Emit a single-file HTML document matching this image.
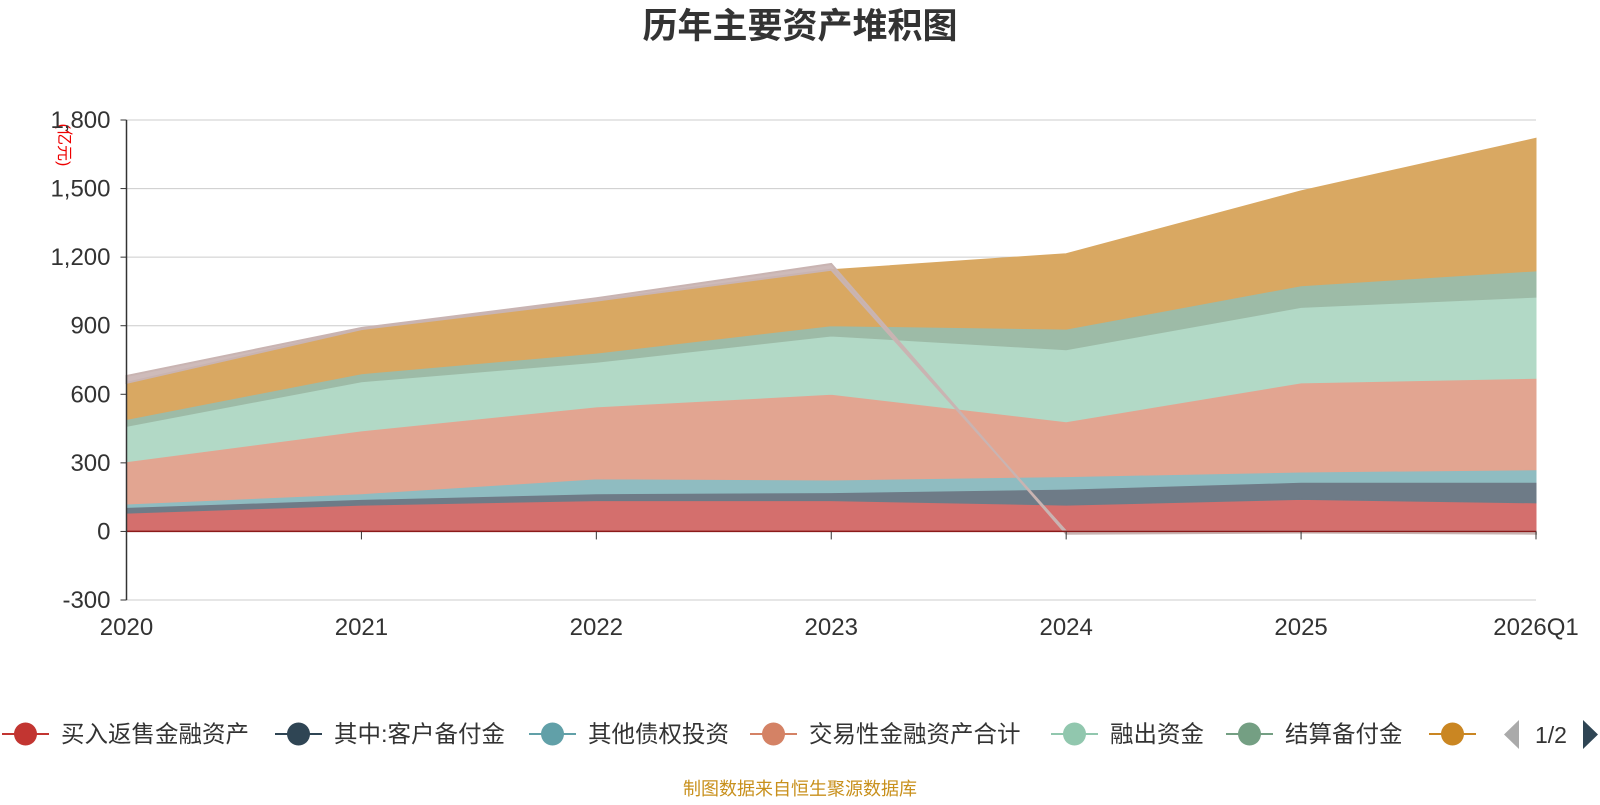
<!DOCTYPE html>
<html><head><meta charset="utf-8"><style>
body{margin:0;background:#fff;width:1600px;height:800px;overflow:hidden;font-family:"Liberation Sans","Noto Sans CJK SC",sans-serif}
</style></head><body>
<svg id="c" width="1600" height="800" xmlns="http://www.w3.org/2000/svg">
<text x="800" y="38" text-anchor="middle" font-size="35" font-weight="bold" fill="#333" font-family="Liberation Sans, Noto Sans CJK SC, sans-serif">历年主要资产堆积图</text>
<text transform="translate(59,145) rotate(90)" text-anchor="middle" font-size="16" fill="#e00" font-family="Liberation Sans, Noto Sans CJK SC, sans-serif">(亿元)</text>
<g id="grid"></g><g id="areas"></g><g id="axes"></g><g id="legend"></g>
<text x="800" y="795" text-anchor="middle" font-size="18" fill="#c8901c" font-family="Liberation Sans, Noto Sans CJK SC, sans-serif">制图数据来自恒生聚源数据库</text>
</svg>
<script>
const categories=["2020","2021","2022","2023","2024","2025","2026Q1"];
const yTicks=[-300,0,300,600,900,1200,1500,1800];
const seriesNames=["买入返售金融资产","其中:客户备付金","其他债权投资","交易性金融资产合计","融出资金","结算备付金",""];
const s1=[80,115,135,135,115,140,125];
const s2=[25,25,30,35,70,75,90];
const s3=[15,25,65,55,55,45,55];
const s4=[185,275,315,375,240,390,400];
const s5=[155,215,195,255,315,330,355];
const s6=[30,35,40,45,90,95,115];
const s7=[160,195,230,245,330,415,580];
const s8=[30,5,10,25,-10,-5,-10];
const series=[s1,s2,s3,s4,s5,s6,s7];
const fills=["#d46f6d","#6e7b87","#8fbcc1","#e2a591","#b2d9c6","#9dbba7","#d9a862"];
const legendColors=["#c23531","#2f4554","#61a0a8","#d48265","#91c7ae","#749f83","#ca8622"];
const NS="http://www.w3.org/2000/svg";
const x0=126.5,x1=1536,yTop=120,yBot=600,vMin=-300,vMax=1800;
const X=i=>x0+(x1-x0)*i/(categories.length-1);
const Y=v=>yBot-(v-vMin)/(vMax-vMin)*(yBot-yTop);
function mk(tag,attrs,parent){const e=document.createElementNS(NS,tag);for(const k in attrs)e.setAttribute(k,attrs[k]);parent.appendChild(e);return e;}
const grid=document.getElementById('grid'),areas=document.getElementById('areas'),axes=document.getElementById('axes'),legend=document.getElementById('legend');
yTicks.forEach(v=>{
 const l=mk('line',{x1:x0,x2:x1,y1:Y(v),y2:Y(v),stroke:'#ccc','stroke-width':1},grid);
 
 
 const t=mk('text',{x:x0-16,y:Y(v)+8,'text-anchor':'end','font-size':24,fill:'#333'},axes);
 t.textContent=v.toLocaleString('en-US');
 
 
 mk('line',{x1:x0-6,x2:x0,y1:Y(v),y2:Y(v),stroke:'#333'},axes);
});
let base=categories.map(()=>0);
series.forEach((s,k)=>{
 const top=base.map((b,i)=>b+s[i]);
 let pts=top.map((v,i)=>X(i)+','+Y(v));
 let bp=base.map((v,i)=>X(i)+','+Y(v)).reverse();
 const p=mk('polygon',{points:pts.concat(bp).join(' '),fill:fills[k],stroke:fills[k],'stroke-width':1},areas);
 
 
 base=top;
});
const lastTop=base.slice();
const top8=s8.map((v,i)=>v>=0?lastTop[i]+v:v);
const base8=s8.map((v,i)=>v>=0?lastTop[i]:0);
const p8=mk('polygon',{points:top8.map((v,i)=>X(i)+','+Y(v)).concat(base8.map((v,i)=>X(i)+','+Y(v)).reverse()).join(' '),fill:'#c9b4b2',stroke:'#c9b4b2','stroke-width':2,'fill-opacity':0.9},areas);


mk('line',{x1:x0,x2:x1,y1:Y(0),y2:Y(0),stroke:'#8b1a1a','stroke-width':1.5},axes);
mk('line',{x1:x0,x2:x0,y1:yTop,y2:yBot,stroke:'#333','stroke-width':1.5},axes);
categories.forEach((c,i)=>{
 mk('line',{x1:X(i),x2:X(i),y1:Y(0),y2:Y(0)+8,stroke:'#333'},axes);
 const t=mk('text',{x:X(i),y:635,'text-anchor':'middle','font-size':24,fill:'#333'},axes);
 t.textContent=c;
 
 
});
const lx=[2,275,529,750,1051,1226,1429];
seriesNames.forEach((n,k)=>{
 const g=mk('g',{},legend);
 
 
 mk('line',{x1:lx[k],x2:lx[k]+47,y1:734,y2:734,stroke:legendColors[k],'stroke-width':2},g);
 mk('circle',{cx:lx[k]+23.5,cy:734,r:11.5,fill:legendColors[k]},g);
 if(n){const t=mk('text',{x:lx[k]+59,y:742,'font-size':23.5,fill:'#333'},g);t.textContent=n;}
});
const pl=mk('polygon',{points:'1519,720 1519,749 1504,734.5',fill:'#aaa'},legend);


const pt=mk('text',{x:1551,y:743,'text-anchor':'middle','font-size':23,fill:'#333'},legend);
pt.textContent='1/2';


const pn=mk('polygon',{points:'1583,720 1583,749 1598,734.5',fill:'#2f4554'},legend);


</script>
</body></html>
